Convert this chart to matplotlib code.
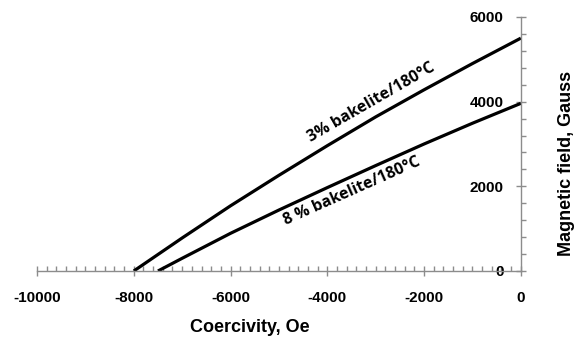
import matplotlib
matplotlib.use('Agg')
from matplotlib import pyplot as plt
from matplotlib.ticker import MultipleLocator

# Data
coercivity_3 = [-8000, -7000, -6000, -5000, -4000, -3000, -2000, -1000, 0]
field_3 = [0, 780, 1540, 2260, 2960, 3640, 4280, 4900, 5500]
coercivity_8 = [-7500, -7000, -6000, -5000, -4000, -3000, -2000, -1000, 0]
field_8 = [0, 300, 890, 1440, 1970, 2490, 3000, 3490, 3960]

label_3 = '3% bakelite/180°C'
label_8 = '8 % bakelite/180°C'

plt.rcParams['font.family'] = ['Liberation Sans', 'DejaVu Sans']
plt.rcParams['axes.unicode_minus'] = False

fig = plt.figure(figsize=(5.8, 3.39), dpi=100)
ax = fig.add_axes([0.0638, 0.2006, 0.898 - 0.0638, 0.9499 - 0.2006])

ax.plot(coercivity_3, field_3, c='black', lw=2.3, solid_capstyle='butt')
ax.plot(coercivity_8, field_8, c='black', lw=2.3, solid_capstyle='butt')

ax.set_xlim(-10000, 0)
ax.set_ylim(0, 6000)

# axes cross at the origin, like the original
for side in ['top', 'right']:
    ax.spines[side].set_visible(False)
ax.spines['left'].set_position(('data', 0))
for side in ['left', 'bottom']:
    ax.spines[side].set_color('#8c8c8c')
    ax.spines[side].set_linewidth(1.0)

ax.xaxis.set_major_locator(MultipleLocator(2000))
ax.xaxis.set_minor_locator(MultipleLocator(200))
ax.yaxis.set_major_locator(MultipleLocator(2000))
ax.yaxis.set_minor_locator(MultipleLocator(400))

ax.tick_params(axis='both', which='major', direction='inout', length=7,
               width=1, color='#8c8c8c', labelsize=11)
ax.tick_params(axis='both', which='minor', direction='in', length=3.5,
               width=1, color='#8c8c8c')
ax.tick_params(axis='x', which='major', pad=11)
ax.tick_params(axis='y', which='major', pad=9)
for lab in ax.get_xticklabels() + ax.get_yticklabels():
    lab.set_fontweight('bold')

ax.set_xlabel('Coercivity, Oe', fontsize=13, fontweight='bold',
              va='center', ha='center')
ax.xaxis.set_label_coords(0.44, -0.224)
ax.set_ylabel('Magnetic field, Gauss', fontsize=13, fontweight='bold',
              va='center', ha='center')
ax.yaxis.set_label_coords(1.095, 0.425)

ax.text(-3080, 3990, label_3, rotation=30, ha='center', va='center',
        fontsize=11.5, fontweight='bold', family=['Open Sans', 'DejaVu Sans'])
ax.text(-3490, 1880, label_8, rotation=24, ha='center', va='center',
        fontsize=11.5, fontweight='bold', family=['Open Sans', 'DejaVu Sans'])

fig.savefig('out.png', dpi=100)
